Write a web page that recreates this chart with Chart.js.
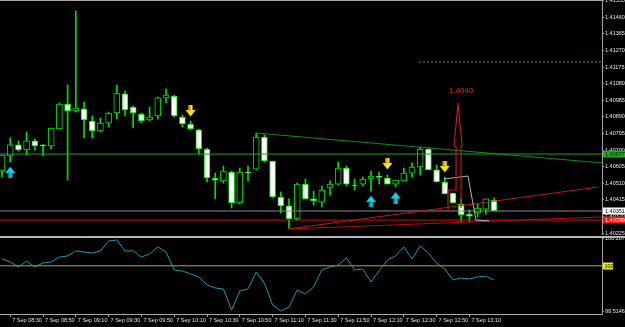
<!DOCTYPE html>
<html>
<head>
<meta charset="utf-8">
<script src="https://cdn.jsdelivr.net/npm/chart.js@4.4.0/dist/chart.umd.min.js"></script>
<style>
  html, body { margin: 0; padding: 0; background: #000; }
  #wrap { position: relative; width: 625px; height: 327px; background: #000; overflow: hidden; }
  #mainChart { position: absolute; left: 0; top: 0; }
  #oscChart { position: absolute; left: 0; top: 236px; }
</style>
</head>
<body>
<div id="wrap">
  <canvas id="mainChart" width="625" height="235"></canvas>
  <canvas id="oscChart" width="625" height="91"></canvas>
</div>
<script>
// M5 bars, 7 Sep 08:25 .. 13:25
const opens = [1.40580, 1.40666, 1.40729, 1.40700, 1.40752, 1.40729, 1.40723, 1.40820, 1.40963, 1.40923,
  1.40935, 1.40866, 1.40809, 1.40854, 1.40912, 1.41021, 1.40946, 1.40906, 1.40872, 1.40895,
  1.40998, 1.41009, 1.40889, 1.40849, 1.40815, 1.40706, 1.40540, 1.40523, 1.40574, 1.40397,
  1.40574, 1.40591, 1.40774, 1.40637, 1.40431, 1.40380, 1.40305, 1.40505, 1.40420, 1.40402,
  1.40483, 1.40505, 1.40597, 1.40500, 1.40505, 1.40534, 1.40551, 1.40540, 1.40505, 1.40523,
  1.40568, 1.40603, 1.40706, 1.40586, 1.40517, 1.40454, 1.40391, 1.40334, 1.40340, 1.40362, 1.40414];
const highs = [1.40671, 1.40769, 1.40752, 1.40803, 1.40763, 1.40729, 1.40826, 1.40969, 1.41072, 1.41496,
  1.40975, 1.40895, 1.40883, 1.40917, 1.41072, 1.41038, 1.40952, 1.40912, 1.40946, 1.41003,
  1.41049, 1.41015, 1.40900, 1.40866, 1.40820, 1.40711, 1.40568, 1.40608, 1.40580, 1.40597,
  1.40608, 1.40797, 1.40786, 1.40637, 1.40460, 1.40420, 1.40511, 1.40534, 1.40465, 1.40494,
  1.40523, 1.40631, 1.40608, 1.40534, 1.40545, 1.40580, 1.40574, 1.40557, 1.40528, 1.40597,
  1.40626, 1.40717, 1.40711, 1.40614, 1.40545, 1.40454, 1.40420, 1.40357, 1.40391, 1.40420, 1.40425];
const lows = [1.40545, 1.40631, 1.40694, 1.40671, 1.40700, 1.40666, 1.40706, 1.40820, 1.40528, 1.40917,
  1.40769, 1.40769, 1.40803, 1.40832, 1.40877, 1.40895, 1.40826, 1.40854, 1.40866, 1.40877,
  1.40969, 1.40889, 1.40832, 1.40815, 1.40677, 1.40517, 1.40420, 1.40511, 1.40368, 1.40391,
  1.40523, 1.40586, 1.40631, 1.40425, 1.40340, 1.40254, 1.40299, 1.40420, 1.40385, 1.40374,
  1.40442, 1.40500, 1.40494, 1.40471, 1.40494, 1.40465, 1.40505, 1.40505, 1.40488, 1.40523,
  1.40545, 1.40557, 1.40586, 1.40517, 1.40448, 1.40397, 1.40288, 1.40288, 1.40317, 1.40334, 1.40351];
const closes = [1.40671, 1.40729, 1.40700, 1.40752, 1.40723, 1.40723, 1.40826, 1.40963, 1.40923, 1.40940,
  1.40872, 1.40809, 1.40854, 1.40912, 1.41026, 1.40929, 1.40912, 1.40866, 1.40889, 1.40998,
  1.41015, 1.40895, 1.40849, 1.40820, 1.40706, 1.40540, 1.40528, 1.40580, 1.40397, 1.40574,
  1.40571, 1.40774, 1.40637, 1.40431, 1.40380, 1.40305, 1.40505, 1.40420, 1.40408, 1.40471,
  1.40505, 1.40597, 1.40505, 1.40497, 1.40534, 1.40551, 1.40543, 1.40505, 1.40528, 1.40568,
  1.40603, 1.40706, 1.40586, 1.40517, 1.40448, 1.40397, 1.40328, 1.40322, 1.40368, 1.40420, 1.40351];

// oscillator in the sub-window
const oscValues = [100.073, 100.041, 99.987, 100.051, 99.987, 100.030, 100.041, 100.094, 100.105, 100.159,
  100.148, 100.137, 100.159, 100.266, 100.277, 100.159, 100.159, 100.094, 100.127, 100.202,
  100.148, 99.955, 99.944, 99.912, 99.880, 99.794, 99.762, 99.751, 99.526, 99.730,
  99.751, 99.933, 99.815, 99.579, 99.515, 99.558, 99.740, 99.697, 99.772, 99.955,
  99.987, 100.008, 100.084, 99.955, 99.966, 99.826, 99.944, 100.062, 100.105, 100.202,
  100.073, 100.212, 100.137, 100.030, 99.966, 99.848, 99.869, 99.858, 99.880, 99.890, 99.848];
const oscLevel = 100;
const oscTicks = [99.5146, 100.2875];

const priceTicks = [1.40225, 1.40320, 1.40415, 1.40510, 1.40605, 1.40700, 1.40795, 1.40890,
  1.40985, 1.41080, 1.41175, 1.41270, 1.41365, 1.41460, 1.41555];
const timeLabelBars = [1, 5, 9, 13, 17, 21, 25, 29, 33, 37, 41, 45, 49, 53, 57];
const timeLabels = ['08:30', '08:50', '09:10', '09:30', '09:50', '10:10', '10:30', '10:50',
  '11:10', '11:30', '11:50', '12:10', '12:30', '12:50', '13:10'];

// drawn objects [bar, price]
const greenLevel = 1.40677;
const bidLevel = 1.40351;
const redLevel = 1.40299;
const dottedLevel = [[50.85, 1.41204], [73.17, 1.41204]];
const greenTrend = [[31, 1.40797], [73.17, 1.40626]];
const redTrendA = [[34.9, 1.40248], [72.7, 1.40488]];
const redTrendB = [[34.9, 1.40248], [73.17, 1.40317]];
const greyPath = [[53.9, 1.40534], [56.83, 1.40551], [57.8, 1.40299], [59.4, 1.40294]];
const redArrowPath = [[54.39, 1.40345], [54.39, 1.40471], [55.37, 1.40471], [55.37, 1.40717],
  [55.12, 1.40729], [55.37, 1.40843], [55.61, 1.40969], [55.85, 1.40843], [56.10, 1.40729],
  [55.98, 1.40717], [55.98, 1.40368]];
const sellArrows = [[23, 1.40923], [47, 1.40620], [54, 1.40603]];
const buyArrows = [[1, 1.40574], [45, 1.40408], [48, 1.40428]];
const priceNote = { bar: 56, price: 1.41038, text: '1.4040' };

const xMin = -0.244, xMax = 73.17;
const candleGreen = '#00e000';
const tickFont = { family: 'Liberation Sans', size: 5.5 };

const pts = arr => arr.map(p => ({ x: p[0], y: p[1] }));
const flat = v => [{ x: xMin, y: v }, { x: xMax, y: v }];

function makeArrow(fill, shade, down) {
    const c = document.createElement('canvas');
    c.width = 11; c.height = 12;
    const g = c.getContext('2d');
    g.save();
    if (!down) { g.translate(0, 12); g.scale(1, -1); }
    g.beginPath();
    g.moveTo(3.5, 0); g.lineTo(7.5, 0); g.lineTo(7.5, 5); g.lineTo(10.5, 5);
    g.lineTo(5.5, 11.5); g.lineTo(0.5, 5); g.lineTo(3.5, 5); g.closePath();
    g.fillStyle = fill; g.fill();
    g.fillStyle = shade; g.fillRect(3.5, 0, 2, 6);
    g.restore();
    return c;
}
const downArrow = makeArrow('#ffe81a', '#e09a00', true);
const upArrow = makeArrow('#19d3e6', '#0a8fa8', false);

function lineSet(data, color, extra) {
    return Object.assign({ type: 'line', data: data, borderColor: color, borderWidth: 1,
        pointRadius: 0, fill: false, tension: 0, order: 0 }, extra || {});
}

// axis value boxes, borders, text note
const mainOverlay = {
    id: 'mainOverlay',
    afterDraw(chart) {
        const { ctx, chartArea, scales } = chart;
        const y = scales.y, x = scales.x;
        ctx.save();
        ctx.strokeStyle = '#a8a8a8';
        ctx.lineWidth = 1;
        ctx.beginPath();
        ctx.moveTo(0, 0.5); ctx.lineTo(chartArea.right, 0.5);
        ctx.stroke();

        ctx.font = '8px "Liberation Sans"';
        ctx.fillStyle = '#e03030';
        ctx.textAlign = 'center';
        ctx.textBaseline = 'middle';
        ctx.fillText(priceNote.text, x.getPixelForValue(priceNote.bar), y.getPixelForValue(priceNote.price));

        const boxes = [[greenLevel, '#22b022', '#000'], [bidLevel, '#ffffff', '#000'], [redLevel, '#ff1010', '#fff']];
        ctx.font = '5.5px "Liberation Sans"';
        ctx.textAlign = 'left';
        boxes.forEach(b => {
            const py = Math.round(y.getPixelForValue(b[0]));
            ctx.fillStyle = b[1];
            ctx.fillRect(chartArea.right + 1, py - 3.5, 22, 7);
            ctx.fillStyle = b[2];
            ctx.fillText(b[0].toFixed(5), chartArea.right + 3, py);
        });
        ctx.restore();
    }
};

new Chart(document.getElementById('mainChart'), {
    type: 'bar',
    data: {
        datasets: [
            { type: 'line', data: pts(sellArrows), showLine: false, pointStyle: downArrow, pointRadius: 6, order: -1 },
            { type: 'line', data: pts(buyArrows), showLine: false, pointStyle: upArrow, pointRadius: 6, order: -1 },
            lineSet(pts(redArrowPath), '#c81818', { borderWidth: 1.2 }),
            lineSet(pts(greyPath), '#b4b4b4'),
            lineSet(pts(greenTrend), '#178a17'),
            lineSet(pts(redTrendA), '#c01818'),
            lineSet(pts(redTrendB), '#b01010'),
            lineSet(pts(dottedLevel), '#22b822', { borderDash: [2, 2] }),
            lineSet(flat(greenLevel), '#1ea01e'),
            lineSet(flat(bidLevel), '#8a8a8a'),
            lineSet(flat(redLevel), '#d01010'),
            {
                data: opens.map((o, i) => ({ x: i, y: [o, closes[i]] })),
                backgroundColor: opens.map((o, i) => closes[i] > o ? '#000000' : '#ffffff'),
                borderColor: candleGreen,
                borderWidth: 1,
                borderSkipped: false,
                barThickness: 6,
                grouped: false,
                order: 1
            },
            {
                data: lows.map((l, i) => ({ x: i, y: [l, highs[i]] })),
                backgroundColor: candleGreen,
                borderWidth: 0,
                barThickness: 1,
                grouped: false,
                order: 2
            }
        ]
    },
    options: {
        responsive: false,
        animation: false,
        events: [],
        layout: { padding: 0, autoPadding: false },
        plugins: { legend: { display: false }, tooltip: { enabled: false } },
        scales: {
            x: { type: 'linear', min: xMin, max: xMax, offset: false, display: false },
            y: {
                position: 'right',
                min: 1.402136,
                max: 1.415585,
                afterBuildTicks(s) { s.ticks = priceTicks.map(v => ({ value: v })); },
                afterFit(s) { s.width = 23; s.paddingTop = 0; s.paddingBottom = 0; },
                ticks: { color: '#e6e6e6', font: tickFont, padding: 1, callback: v => v.toFixed(5) },
                grid: { drawOnChartArea: false, color: '#a0a0a0', tickLength: 2 },
                border: { display: true, color: '#a0a0a0' }
            }
        }
    },
    plugins: [mainOverlay]
});

const oscOverlay = {
    id: 'oscOverlay',
    afterDraw(chart) {
        const { ctx, chartArea, scales } = chart;
        ctx.save();
        ctx.fillStyle = '#b4b4b4';
        ctx.fillRect(0, 0, chartArea.right + 23, 2);
        const py = Math.round(scales.y.getPixelForValue(oscLevel));
        ctx.fillStyle = '#f0f000';
        ctx.fillRect(chartArea.right + 1, py - 3.5, 10, 7);
        ctx.fillStyle = '#000';
        ctx.font = '5.5px "Liberation Sans"';
        ctx.textBaseline = 'middle';
        ctx.fillText(String(oscLevel), chartArea.right + 2.5, py);
        ctx.restore();
    }
};

new Chart(document.getElementById('oscChart'), {
    type: 'line',
    data: {
        datasets: [
            lineSet(oscValues.map((v, i) => ({ x: i, y: v })), '#2595ad', { order: 0 }),
            lineSet(flat(oscLevel), '#b4b400', { order: 1 })
        ]
    },
    options: {
        responsive: false,
        animation: false,
        events: [],
        layout: { padding: { top: 2 }, autoPadding: false },
        plugins: { legend: { display: false }, tooltip: { enabled: false } },
        scales: {
            x: {
                type: 'linear', min: xMin, max: xMax, offset: false,
                afterBuildTicks(s) { s.ticks = timeLabelBars.map(v => ({ value: v })); },
                afterFit(s) { s.height = 13; s.paddingLeft = 0; s.paddingRight = 0; },
                ticks: {
                    autoSkip: false, maxRotation: 0, align: 'start', labelOffset: 2, padding: 0,
                    color: '#e0e0e0', font: tickFont,
                    callback: (v, i) => '7 Sep ' + timeLabels[i]
                },
                grid: { drawOnChartArea: false, color: '#a0a0a0', tickLength: 3 },
                border: { display: true, color: '#a8a8a8' }
            },
            y: {
                position: 'right',
                min: 99.483,
                max: 100.298,
                afterBuildTicks(s) { s.ticks = oscTicks.map(v => ({ value: v })); },
                afterFit(s) { s.width = 23; s.paddingTop = 0; s.paddingBottom = 0; },
                ticks: { color: '#e6e6e6', font: tickFont, padding: 1, callback: v => String(v) },
                grid: { drawOnChartArea: false, color: '#a0a0a0', tickLength: 2 },
                border: { display: true, color: '#a0a0a0' }
            }
        }
    },
    plugins: [oscOverlay]
});
</script>
</body>
</html>
